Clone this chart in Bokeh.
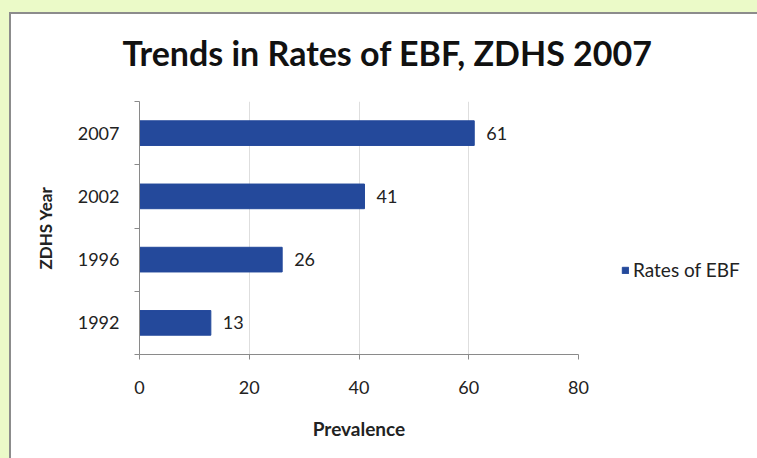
from bokeh.plotting import figure
from bokeh.models import (ColumnDataSource, FixedTicker, LabelSet, Legend, LegendItem,
                          Range1d)
from bokeh.core.properties import value
from bokeh.embed import file_html
from bokeh.resources import INLINE

# ---- data ----
years = ["1992", "1996", "2002", "2007"]
rates = [13, 26, 41, 61]
x_ticks = [0, 20, 40, 60, 80]
series_name = "Rates of EBF"
title_text = "Trends in  Rates of EBF, ZDHS 2007"

BAR = "#24499b"
BG = "#ebfac8"
FONT = "Lato"

pos = [i + 0.5 for i in range(len(years))]
src = ColumnDataSource(dict(y=pos, v=rates, lab=[str(r) for r in rates]))

p = figure(frame_width=439, frame_height=253, output_backend="svg", toolbar_location=None,
           x_range=Range1d(0, 80), y_range=Range1d(0, len(years)),
           min_border_left=139, min_border_right=179, min_border_top=101,
           min_border_bottom=104, background_fill_color="white",
           border_fill_alpha=0, outline_line_color=None)
p.styles = {"background-color": "white",
            "box-shadow": "inset 9px 12px 0px %s, inset 11px 14px 0px #8c8c8c" % BG}

r = p.hbar(y="y", right="v", left=0, height=0.39, source=src, color=BAR)

# title
p.title.text = title_text
p.title.text_font = FONT
p.title.text_font_size = "34px"
p.title.text_font_style = "bold"
p.title.text_color = "#111111"
p.title.align = "left"
p.title.offset = -17
p.title.vertical_align = "top"
p.title.standoff = 54

# x axis
xa = p.xaxis[0]
xa.ticker = FixedTicker(ticks=x_ticks)
xa.axis_label = "Prevalence"
xa.axis_label_text_font = FONT
xa.axis_label_text_font_size = "19px"
xa.axis_label_text_font_style = "bold"
xa.axis_label_text_color = "#222222"
xa.axis_label_standoff = 20
xa.major_label_text_font = FONT
xa.major_label_text_font_size = "18px"
xa.major_label_text_color = "#222222"
xa.major_label_standoff = 21
xa.major_tick_out = 5
xa.major_tick_in = 0
xa.minor_tick_out = 0
xa.minor_tick_in = 0
xa.axis_line_color = "#8a8a8a"
xa.major_tick_line_color = "#8a8a8a"

# y axis
ya = p.yaxis[0]
ya.ticker = FixedTicker(ticks=pos, minor_ticks=list(range(len(years) + 1)))
ya.major_label_overrides = {pos[i]: years[i] for i in range(len(years))}
ya.axis_label = "ZDHS Year"
ya.axis_label_text_font = FONT
ya.axis_label_text_font_size = "17px"
ya.axis_label_text_font_style = "bold"
ya.axis_label_text_color = "#222222"
ya.axis_label_standoff = 19
ya.major_label_text_font = FONT
ya.major_label_text_font_size = "18px"
ya.major_label_text_color = "#222222"
ya.major_label_standoff = 15
ya.major_tick_out = 0
ya.major_tick_in = 0
ya.minor_tick_out = 5
ya.minor_tick_in = 0
ya.axis_line_color = "#8a8a8a"
ya.minor_tick_line_color = "#8a8a8a"

p.ygrid.grid_line_color = None
p.xgrid.grid_line_color = "#dedede"

labels = LabelSet(x="v", y="y", text="lab", source=src, x_offset=12,
                  text_baseline="middle", text_font=value(FONT), text_font_size=value("18px"),
                  text_color=value("#222222"))
p.add_layout(labels)

legend = Legend(items=[LegendItem(label=series_name, renderers=[r])],
                location=(43, 73), border_line_alpha=0, background_fill_alpha=0,
                glyph_width=8, glyph_height=8, label_standoff=4, padding=0, margin=0,
                label_text_font=FONT, label_text_font_size="19px",
                label_text_color="#222222")
p.add_layout(legend, "right")

html = file_html(p, INLINE)
html = html.replace("<head>", "<head><style>html,body{margin:0;padding:0;background:%s;}</style>" % BG, 1)
open("out.html", "w").write(html)
